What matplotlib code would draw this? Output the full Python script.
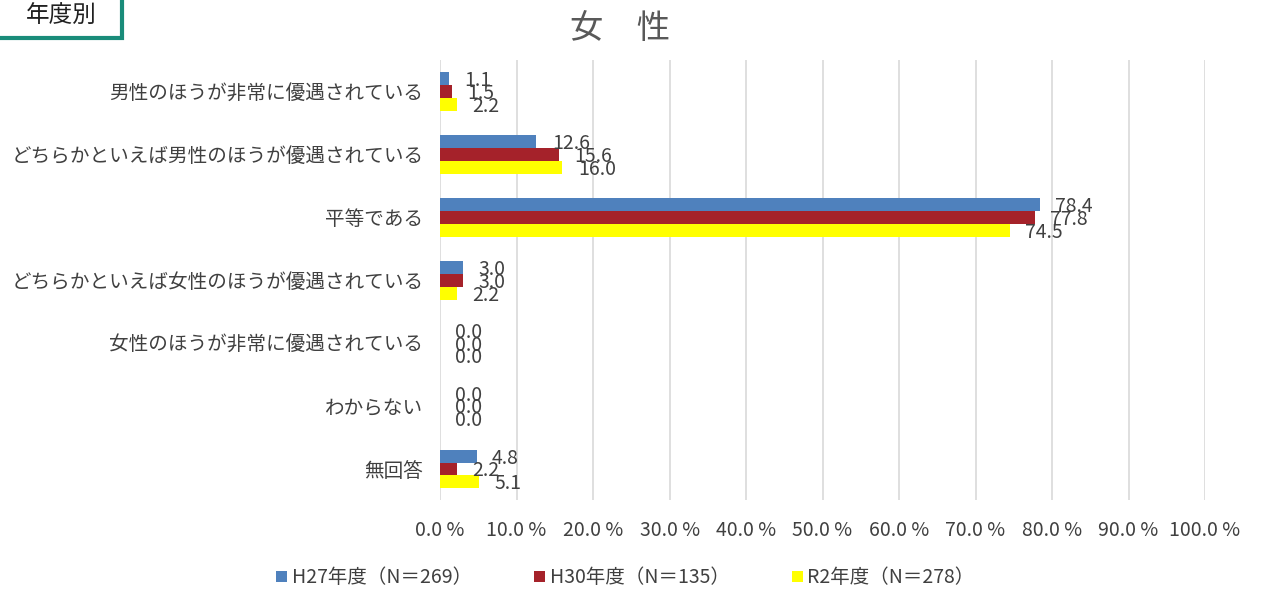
import matplotlib.pyplot as plt
import numpy as np
from matplotlib.patches import Rectangle

plt.rcParams['font.family'] = ['Noto Sans CJK JP', 'DejaVu Sans']
num_font = ['Liberation Sans Narrow', 'Noto Sans CJK JP', 'DejaVu Sans']

categories = ['男性のほうが非常に優遇されている',
              'どちらかといえば男性のほうが優遇されている',
              '平等である',
              'どちらかといえば女性のほうが優遇されている',
              '女性のほうが非常に優遇されている',
              'わからない',
              '無回答']
h27 = [1.1, 12.6, 78.4, 3.0, 0.0, 0.0, 4.8]
h30 = [1.5, 15.6, 77.8, 3.0, 0.0, 0.0, 2.2]
r2 = [2.2, 16.0, 74.5, 2.2, 0.0, 0.0, 5.1]
series = ['H27年度（N＝269）', 'H30年度（N＝135）', 'R2年度（N＝278）']
colors = ['#4F81BD', '#A5222A', '#FFFF00']

fig = plt.figure(figsize=(12.61, 5.92), dpi=100)
ax = fig.add_axes([0.349, 0.1546, 0.6066, 0.744])

y = np.arange(len(categories))
h = 0.205
for i, (vals, lab, c) in enumerate(zip([h27, h30, r2], series, colors)):
    pos = y + (i - 1) * h
    ax.barh(pos, vals, height=h, color=c, label=lab, zorder=2)
    for p, v in zip(pos, vals):
        ax.text(v + 2.0, p + 0.03, f'{v:.1f}', va='center', ha='left',
                fontsize=14, color='#404040', family=num_font, zorder=3)

ax.set_xlim(0, 100)
ax.set_ylim(len(categories) - 0.5, -0.5)
ax.set_yticks(y)
ax.set_yticklabels(categories, fontsize=14.1, color='#404040')
ax.set_xticks(np.arange(0, 101, 10))
ax.set_xticklabels([f'{t:.1f} %' for t in np.arange(0, 101, 10)],
                   fontsize=14, color='#404040', family=num_font)
ax.tick_params(axis='both', length=0)
ax.tick_params(axis='x', pad=14)
ax.tick_params(axis='y', pad=12)
ax.grid(axis='x', color='#D9D9D9', linewidth=1.2, zorder=0)
for s in ax.spines.values():
    s.set_visible(False)

fig.text(0.492, 0.952, '女　性', fontsize=24, color='#595959', ha='center', va='center')

fig.patches.append(Rectangle((-0.01, 0.935), 0.107, 0.08, transform=fig.transFigure,
                             fill=False, edgecolor='#1A8C7A', linewidth=3, figure=fig))
fig.text(0.049, 0.972, '年度別', fontsize=17, color='#202020', ha='center', va='center')

leg = fig.legend(loc='center', bbox_to_anchor=(0.496, 0.024), ncol=3, frameon=False,
                 fontsize=14, handlelength=0.55, handleheight=0.55, handletextpad=0.25,
                 columnspacing=3.2)
for t in leg.get_texts():
    t.set_color('#404040')

fig.savefig('out.png', dpi=100)
